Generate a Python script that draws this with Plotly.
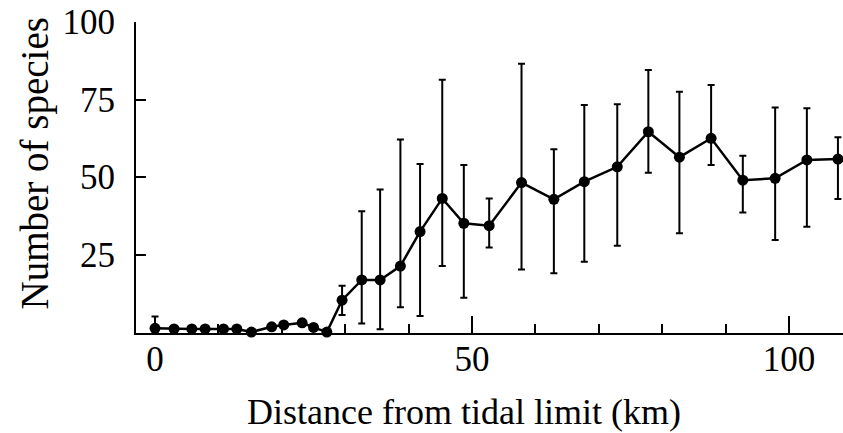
import plotly.graph_objects as go

# Distance from tidal limit (km)
distance = [0, 3, 5.8, 7.9, 10.8, 12.9, 15.2, 18.4, 20.3, 23.2, 25, 27.1,
            29.5, 32.6, 35.5, 38.7, 41.8, 45.3, 48.7, 52.7, 57.8, 62.9,
            67.7, 72.9, 77.8, 82.7, 87.7, 92.7, 97.8, 102.8, 107.7]
# Mean number of species
species = [1.2, 1, 1, 1, 1, 1, 0, 1.7, 2.3, 3.0, 1.5, 0,
           10.3, 16.8, 16.8, 21.3, 32.4, 43.1, 35.1, 34.3, 48.2, 42.8,
           48.5, 53.3, 64.6, 56.4, 62.5, 49.0, 49.6, 55.5, 55.8]
# Upper and lower ends of error bars
upper = [5.0, 1, 1, 1, 1, 1, 0, 1.7, 2.3, 3.0, 1.5, 0,
         14.9, 39.0, 46.0, 62.1, 54.2, 81.4, 53.9, 43.1, 86.5, 59.0,
         73.2, 73.5, 84.5, 77.5, 79.7, 56.9, 72.4, 72.2, 62.8]
lower = [1.2, 1, 1, 1, 1, 1, 0, 1.7, 2.3, 3.0, 1.5, 0,
         5.5, 2.8, 0.9, 8.0, 5.2, 21.3, 11.1, 27.3, 20.2, 19.0,
         22.7, 27.8, 51.4, 31.9, 53.9, 38.6, 29.7, 34.0, 42.9]

x_tickvals = [0, 50, 100]
x_ticktext = ["0", "50", "100"]
y_tickvals = [25, 50, 75, 100]
y_ticktext = ["25", "50", "75", "100"]

err_plus = [u - s for u, s in zip(upper, species)]
err_minus = [s - l for s, l in zip(species, lower)]

W, H = 843, 433
ML, MR, MT, MB = 136, 0, 22, 100

fig = go.Figure()
fig.add_trace(go.Scatter(
    x=distance, y=species, mode="lines+markers",
    line=dict(color="black", width=2.5),
    marker=dict(color="black", size=11),
    error_y=dict(type="data", symmetric=False, array=err_plus,
                 arrayminus=err_minus, color="black", thickness=2, width=3.5),
    cliponaxis=False, showlegend=False,
))

font = "Liberation Serif, Times New Roman, serif"
fig.update_layout(
    width=W, height=H,
    margin=dict(l=ML, r=MR, t=MT, b=MB, pad=0),
    paper_bgcolor="white", plot_bgcolor="white",
    font=dict(family=font, color="black", size=35),
    xaxis=dict(range=[-3, 108.5], showgrid=False, zeroline=False,
               showline=True, linecolor="black", linewidth=2,
               tickmode="array", tickvals=x_tickvals, ticktext=x_ticktext,
               ticks="inside", ticklen=17, tickwidth=2, tickcolor="black",
               ticklabelstandoff=-6,
               minor=dict(ticks="inside", ticklen=9, tickwidth=2,
                          tickcolor="black", dtick=10, tick0=0, showgrid=False),
               tickfont=dict(size=35, family=font)),
    yaxis=dict(range=[-0.3, 100], showgrid=False, zeroline=False,
               showline=True, linecolor="black", linewidth=2,
               tickmode="array", tickvals=y_tickvals, ticktext=y_ticktext,
               ticks="inside", ticklen=10, tickwidth=2, tickcolor="black",
               ticklabelstandoff=12,
               tickfont=dict(size=35, family=font)),
    annotations=[
        dict(text="Distance from tidal limit (km)", xref="paper", yref="paper",
             x=(464 - ML) / (W - ML - MR), y=(H - MB - 412) / (H - MT - MB),
             xanchor="center", yanchor="middle", showarrow=False,
             font=dict(size=36, family=font)),
        dict(text="Number of species", xref="paper", yref="paper",
             x=(34 - ML) / (W - ML - MR), y=(H - MB - 163.5) / (H - MT - MB),
             xanchor="center", yanchor="middle", showarrow=False, textangle=-90,
             font=dict(size=39, family=font)),
    ],
)

fig.write_html(
    "out.html",
    config={"displayModeBar": False},
    post_script="document.body.style.margin='0';document.body.style.padding='0';",
)
